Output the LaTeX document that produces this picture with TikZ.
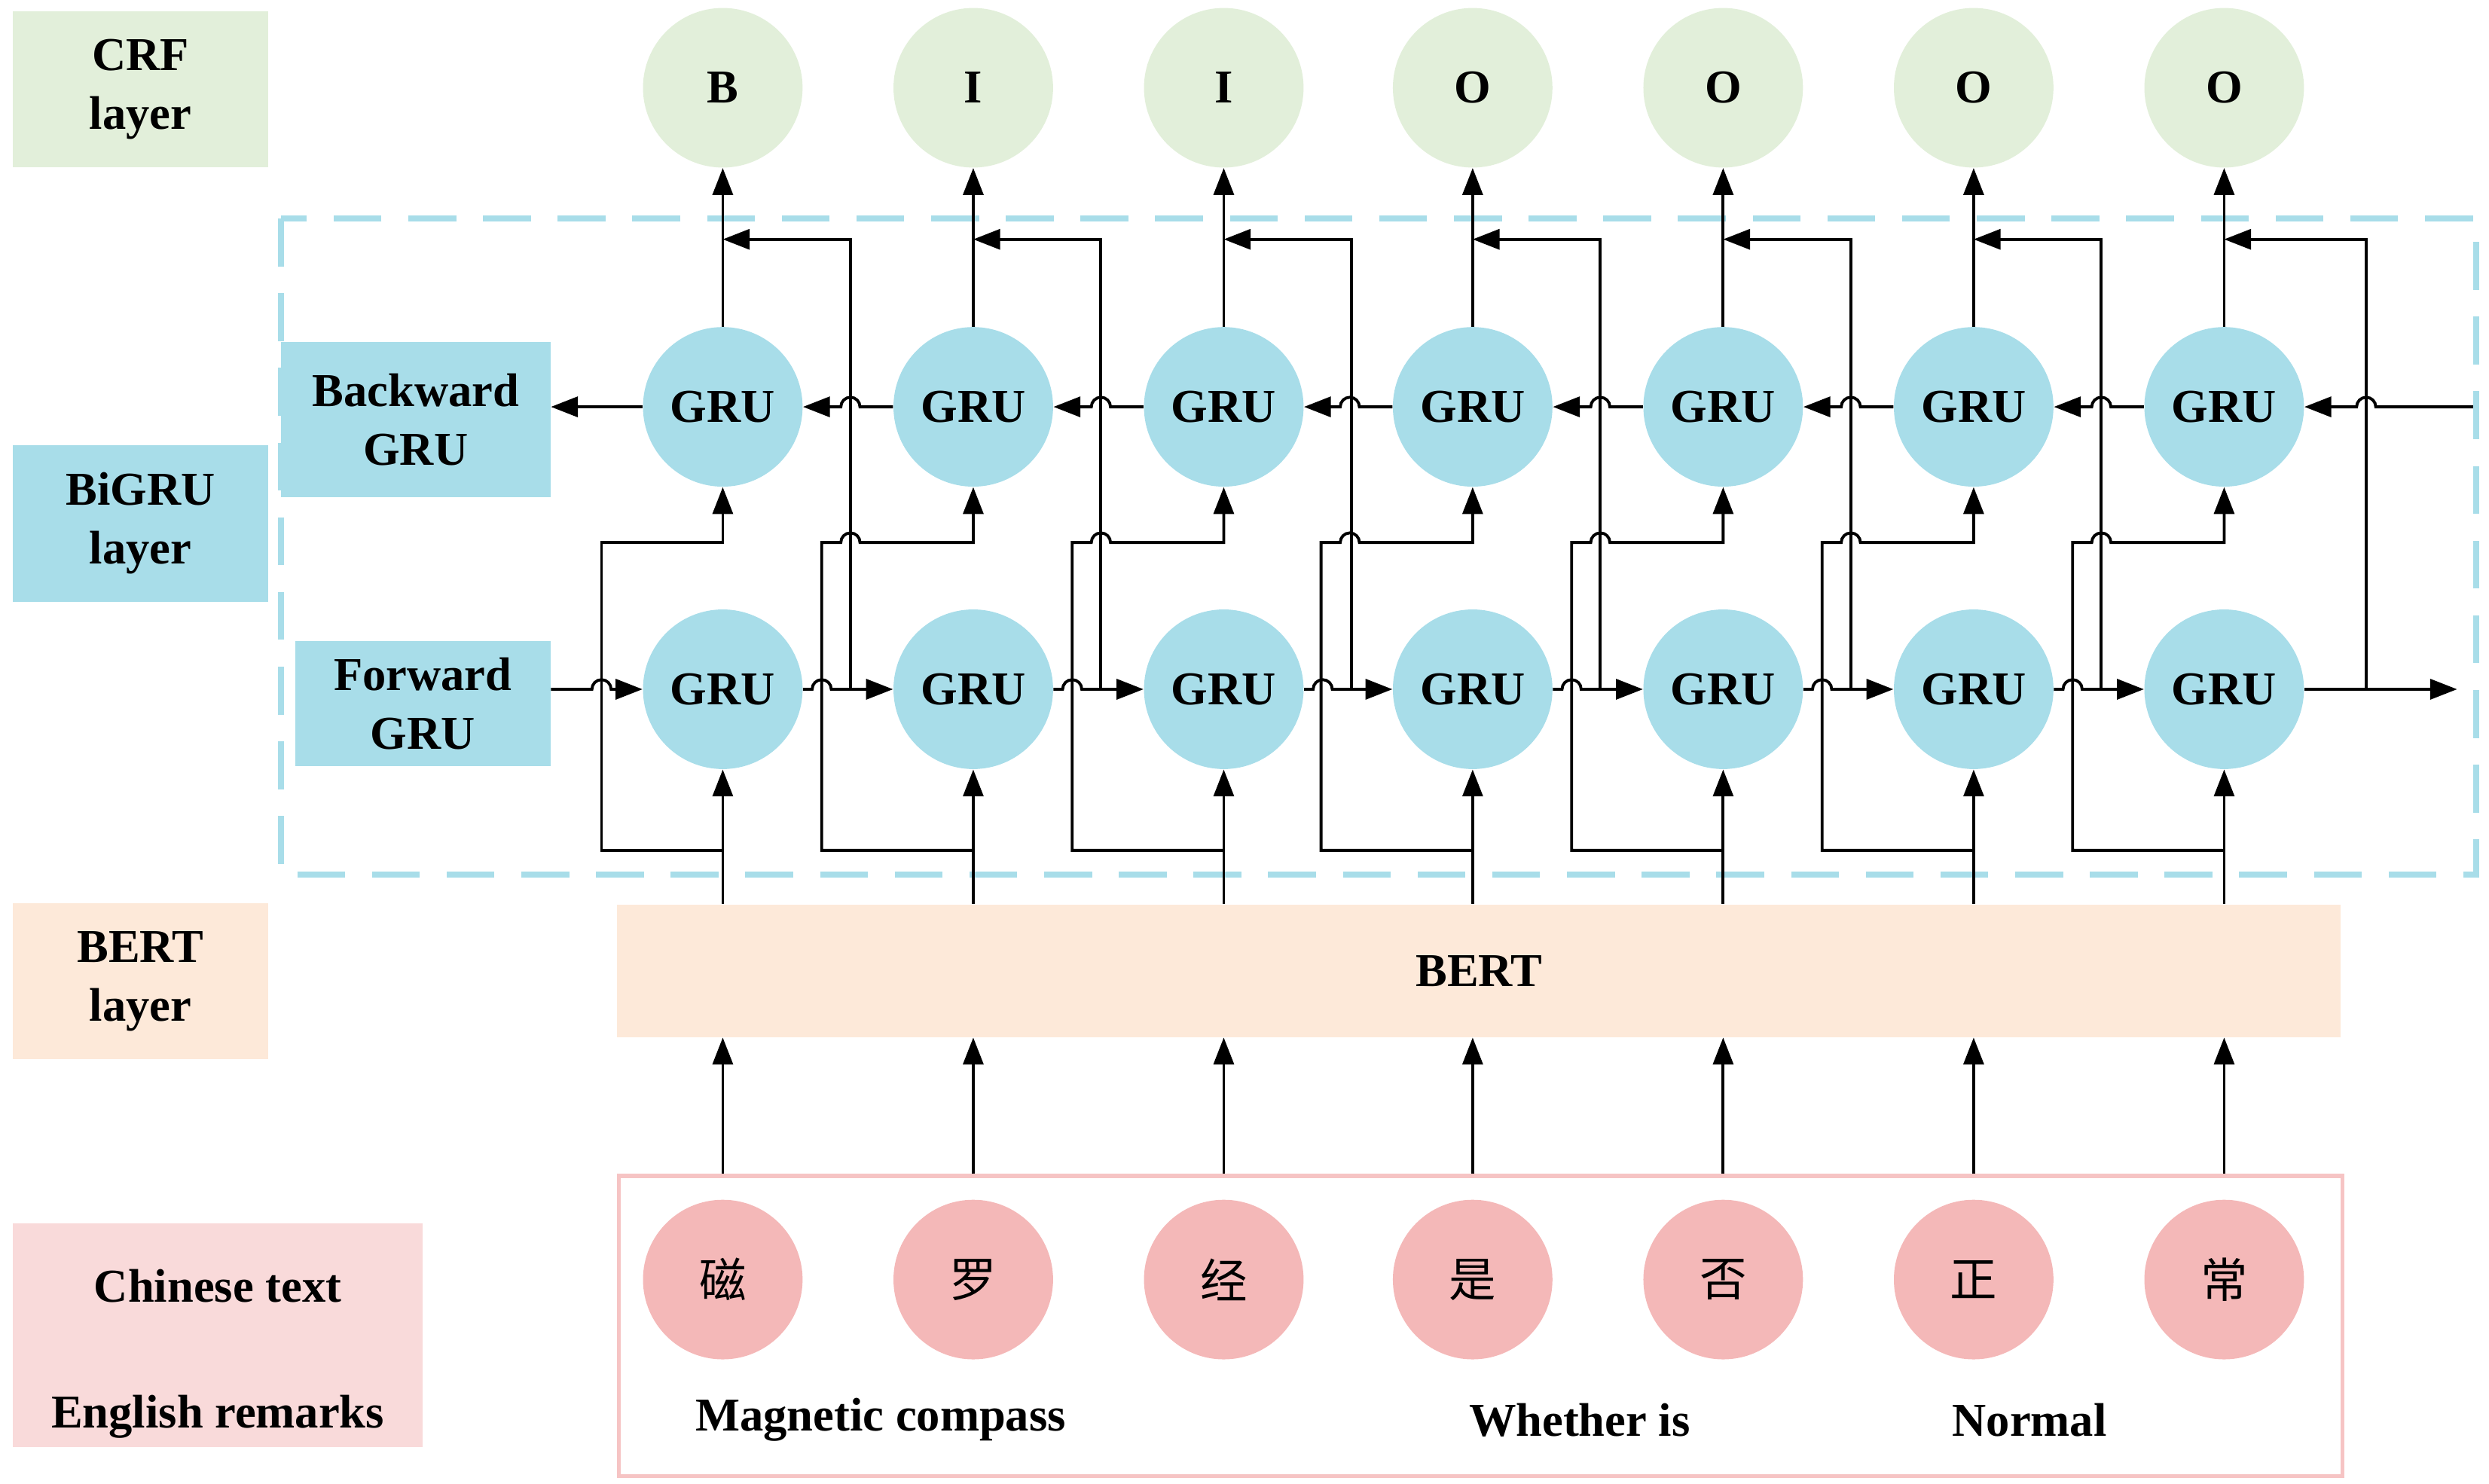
\documentclass[tikz,border=0pt]{standalone}
\usepackage{fontspec}
\setmainfont{Liberation Serif}
\newfontfamily\cjk{Noto Sans CJK SC}
\usetikzlibrary{arrows.meta,calc}
\definecolor{crfc}{HTML}{E2EFDA}
\definecolor{gruc}{HTML}{A8DDE9}
\definecolor{bertc}{HTML}{FDE9D9}
\definecolor{chc}{HTML}{F4B8B8}
\definecolor{chl}{HTML}{F9DADA}
\definecolor{pinkb}{HTML}{F6C4C4}
\definecolor{dashc}{HTML}{A8DDE9}
\begin{document}
\begin{tikzpicture}[x=0.025cm,y=-0.025cm,font=\fontsize{21}{26}\selectfont\bfseries,
 circ/.style={circle,minimum size=2.5cm,inner sep=0,draw=none},
 box/.style={inner sep=0,align=center,draw=none},
 ar/.style={-{Triangle[length=12pt,width=9pt]},line width=1.3pt},
 ln/.style={line width=1.3pt}]
\useasboundingbox (0,0) rectangle (1560,930);
% dashed BiGRU frame
\draw[dashc,line width=2.6pt,dash pattern=on 0.75cm off 0.42cm] (176,137) rectangle (1552,548);
% left labels
\node[box,fill=crfc,minimum width=4cm,minimum height=2.45cm] (crfl) at (88,56) {CRF\\layer};
\node[box,fill=gruc,minimum width=4cm,minimum height=2.45cm] (bil) at (88,328) {BiGRU\\layer};
\node[box,fill=bertc,minimum width=4cm,minimum height=2.45cm] (bertl) at (88,615) {BERT\\layer};
\node[box,fill=chl,minimum width=6.425cm,minimum height=3.5cm] (chl) at (136.5,837) {};
\node[inner sep=0] (cht) at (136.5,806) {Chinese text};
\node[inner sep=0] (ent) at (136.5,888) {English remarks};
\node[box,fill=gruc,minimum width=4.225cm,minimum height=2.425cm] (bwdl) at (260.5,263) {Backward\\GRU};
\node[box,fill=gruc,minimum width=4cm,minimum height=1.95cm] (fwdl) at (265,441) {Forward\\GRU};
% BERT and input box
\node[box,fill=bertc,minimum width=27cm,minimum height=2.075cm] (bert) at (927,608.5) {BERT};
\node[box,draw=pinkb,line width=1.8pt,minimum width=27cm,minimum height=4.7cm] (inbox) at (928,831) {};
\node[inner sep=0] (m1) at (552,890) {Magnetic compass};
\node[inner sep=0] (m2) at (990,890) {Whether is};
\node[inner sep=0] (m3) at (1272,890) {Normal};
% columns
\foreach \x/\t/\c [count=\i] in {453/B/磁,610/I/罗,767/I/经,923/O/是,1080/O/否,1237/O/正,1394/O/常}{
  \node[circ,fill=crfc] (crf\i) at (\x,55) {\t};
  \node[circ,fill=gruc] (b\i) at (\x,255) {GRU};
  \node[circ,fill=gruc] (f\i) at (\x,432) {GRU};
  \node[circ,fill=chc] (c\i) at (\x,802) {\cjk\mdseries\c};
  \draw[ar] (b\i.north) -- (crf\i.south);
  \draw[ar] (bert.north -| f\i) -- (f\i.south);
  \draw[ar] (inbox.north -| c\i) -- (bert.south -| c\i);
}
% branches to backward GRUs
\draw[ar] (453,533) -- (377,533) -- (377,340) -- (453,340) -- (b1.south);
\foreach \x [count=\i from 2] in {610,767,923,1080,1237,1394}{
  \draw[ar] (\x,533) -- ({\x-95},533) -- ({\x-95},340) -- ({\x-83},340)
    arc[start angle=180,end angle=0,radius=0.15cm] -- (\x,340) -- (b\i.south);
}
% forward outputs
\foreach \x in {453,610,767,923,1080,1237}{
  \draw[ar] ({\x+80},432) -- ({\x+80},150) -- (\x,150);
}
\draw[ar] (1483,432) -- (1483,150) -- (1394,150);
% forward chain
\draw[ar] (fwdl.east |- f1) -- (371,432) arc[start angle=180,end angle=0,radius=0.15cm] -- (f1.west);
\foreach \x [count=\i, evaluate=\i as \j using int(\i+1)] in {453,610,767,923,1080,1237}{
  \draw[ar] (f\i.east) -- ({\x+56},432) arc[start angle=180,end angle=0,radius=0.15cm] -- (f\j.west);
}
\draw[ar] (f7.east) -- (1540,432);
% backward chain
\draw[ar] (1550,255) -- (1489,255) arc[start angle=0,end angle=180,radius=0.15cm] -- (b7.east);
\foreach \x [count=\i from 2, evaluate=\i as \j using int(\i-1)] in {610,767,923,1080,1237,1394}{
  \draw[ar] (b\i.west) -- ({\x-71},255) arc[start angle=0,end angle=180,radius=0.15cm] -- (b\j.east);
}
\draw[ar] (b1.west) -- (bwdl.east |- b1);
\end{tikzpicture}
\end{document}
